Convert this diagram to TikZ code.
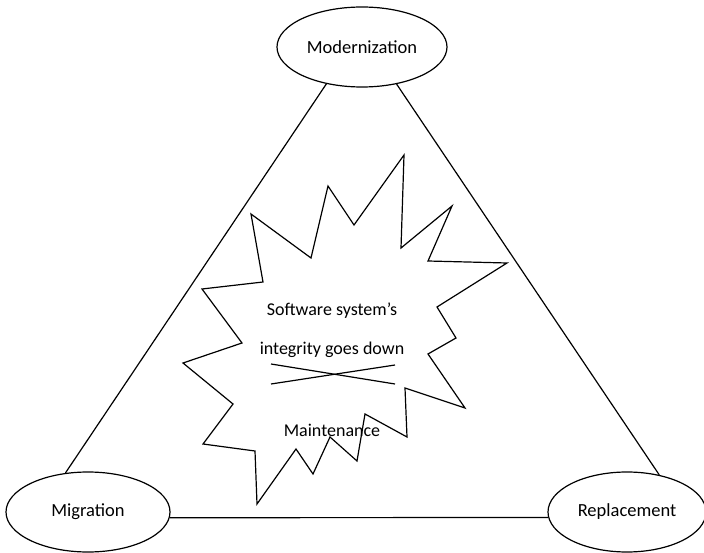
\documentclass[tikz,border=0pt]{standalone}
\usepackage{fontspec}
\setmainfont{Carlito}
\usetikzlibrary{shapes.geometric}
\begin{document}
\begin{tikzpicture}[x=1pt,y=-1pt,
  every path/.style={line width=1.2pt},
  stage/.style={draw, ellipse, inner sep=0pt, font=\fontsize{18.5}{20}\selectfont},
  label/.style={inner sep=0pt, font=\fontsize{18}{20}\selectfont}]
\useasboundingbox (0,0) rectangle (704,553);

% the three end states
\node[stage, minimum width=170pt, minimum height=80pt] (mod) at (362,47) {Modernization};
\node[stage, minimum width=164pt, minimum height=80pt] (mig) at (88,512) {Migration};
\node[stage, minimum width=158pt, minimum height=80pt] (rep) at (627,512) {Replacement};

% triangle connecting them
\draw (mig.120) -- (mod.226);
\draw (mod.313) -- (rep.49);
\draw (mig.-4) -- (rep.184);

% explosion outline
\draw[line join=miter] (251,214) -- (311,258) -- (328,186) -- (354,225) -- (404,155)
  -- (401,248) -- (452,206) -- (428,261) -- (507,263) -- (437,307) -- (456,338)
  -- (428,354) -- (465,408) -- (405,388) -- (407,437) -- (365,414) -- (357,461)
  -- (330,437) -- (313,474) -- (296,449) -- (257,504) -- (255,451) -- (203,444)
  -- (233,404) -- (183,363) -- (242,343) -- (202,289) -- (263,282) -- cycle;

% texts inside the explosion
\node[label] (t1) at (332,311) {Software system’s};
\node[label] (t2) at (332,350) {integrity goes down};
\node[label] (t3) at (332,430) {Maintenance};

% crossed-out mark
\draw (271,364) -- (395,384);
\draw (271,384) -- (395,365);
\end{tikzpicture}
\end{document}
